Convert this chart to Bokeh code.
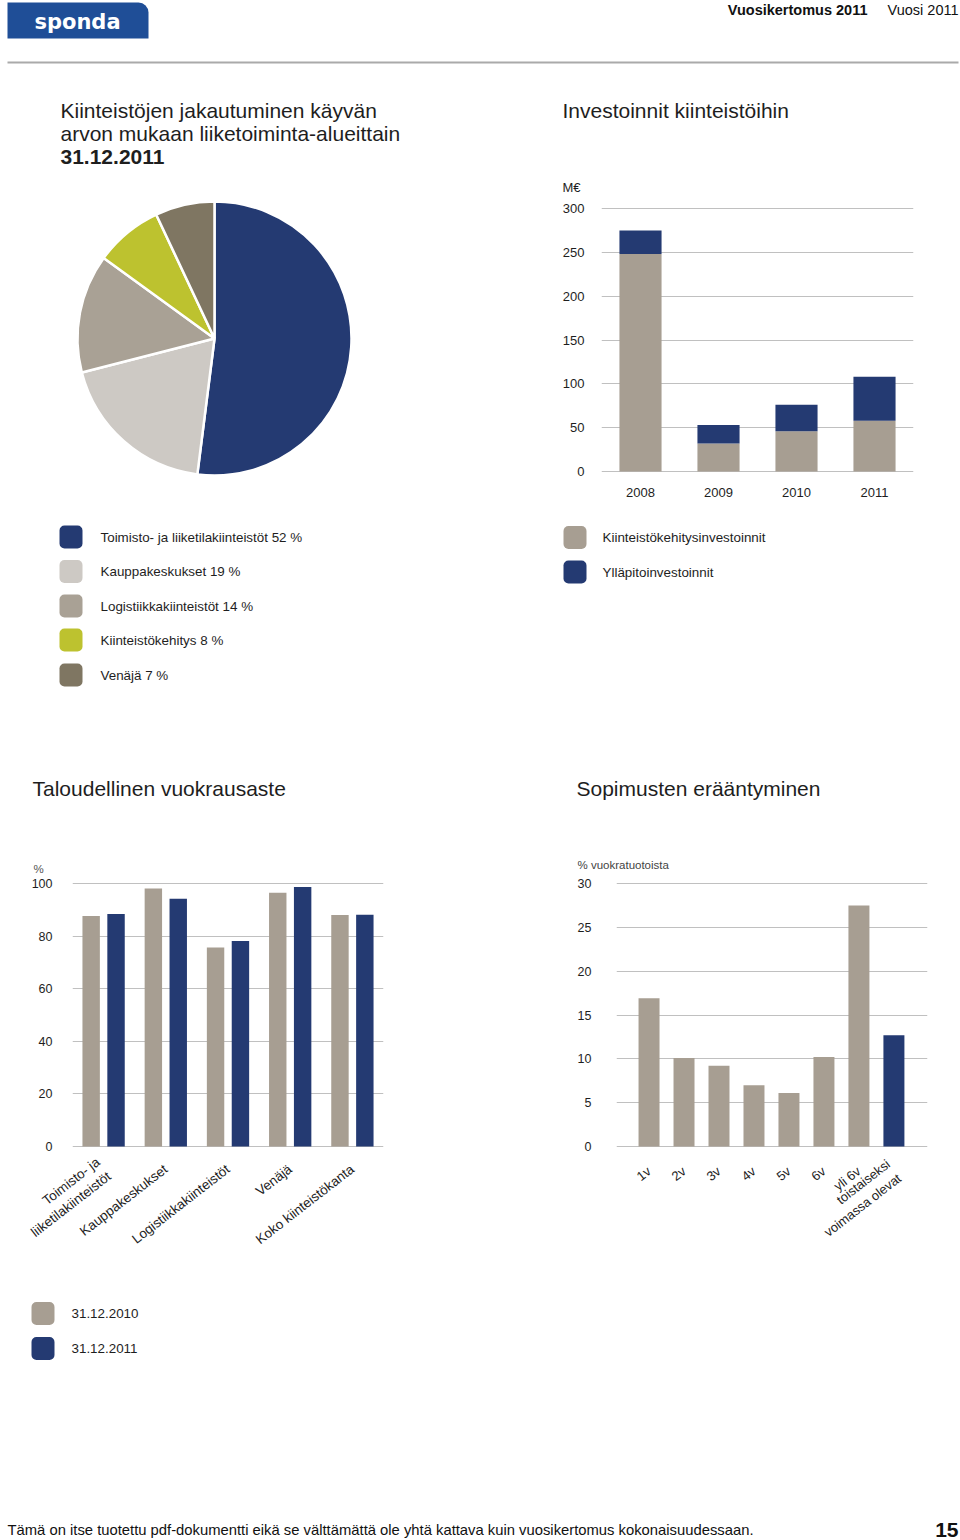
import math
from bokeh.plotting import figure
from bokeh.models import Range1d, FactorRange, FixedTicker, ColumnDataSource
from bokeh.layouts import column, row
from bokeh.transform import dodge
from bokeh.core.properties import value
from bokeh.embed import file_html
from bokeh.resources import INLINE

# ---------------- data ----------------
pie_labels = ["Toimisto- ja liiketilakiinteistöt", "Kauppakeskukset",
              "Logistiikkakiinteistöt", "Kiinteistökehitys", "Venäjä"]
pie_shares = [52, 19, 14, 8, 7]

inv_years = ["2008", "2009", "2010", "2011"]
inv_development = [248, 32, 46, 58]
inv_maintenance = [27, 21, 30, 50]
inv_ticks = [0, 50, 100, 150, 200, 250, 300]
inv_series = ["Kiinteistökehitysinvestoinnit", "Ylläpitoinvestoinnit"]

vac_categories = ["Toimisto- ja\nliiketilakiinteistöt", "Kauppakeskukset",
                  "Logistiikkakiinteistöt", "Venäjä", "Koko kiinteistökanta"]
vac_2010 = [87.6, 98.1, 75.7, 96.5, 88.0]
vac_2011 = [88.4, 94.2, 78.1, 98.7, 88.1]
vac_ticks = [0, 20, 40, 60, 80, 100]
vac_series = ["31.12.2010", "31.12.2011"]

exp_labels = ["1v", "2v", "3v", "4v", "5v", "6v", "yli 6v",
              "toistaiseksi\nvoimassa olevat"]
exp_values = [16.9, 10.1, 9.2, 7.0, 6.1, 10.2, 27.5, 12.7]
exp_ticks = [0, 5, 10, 15, 20, 25, 30]

# ---------------- style ----------------
FONT = "Liberation Sans"
NAVY = "#243a72"
BEIGE = "#a79e92"
PIE_COLORS = [NAVY, "#cdc9c4", "#a9a195", "#bdc22f", "#7f7662"]
GRID = "#c0c0c0"
TXT = "#1e1e1e"
LOGO = "#1f4e97"


def canvas(x0, x1, y0, y1):
    p = figure(width=x1 - x0, height=y1 - y0, x_range=Range1d(x0, x1),
               y_range=Range1d(-y1, -y0), x_axis_type=None, y_axis_type=None,
               output_backend="svg", toolbar_location=None, min_border=0,
               outline_line_color=None)
    return p


def txt(p, x, y, s, size, color=TXT, bold=False, align="left", baseline="middle", font=FONT):
    p.text(x=[x], y=[-y], text=[s], text_font=value(font),
           text_font_size=f"{size}px", text_color=color,
           text_font_style="bold" if bold else "normal",
           text_align=align, text_baseline=baseline)


def swatch(p, x, yc, color):
    p.quad(left=[x], right=[x + 23], top=[-(yc - 11.5)], bottom=[-(yc + 11.5)],
           fill_color=color, line_color=None, border_radius=5)


def style_chart(p, ticks, label_size, standoff_y, standoff_x):
    p.xgrid.visible = False
    p.ygrid.ticker = FixedTicker(ticks=ticks)
    p.ygrid.grid_line_color = GRID
    p.ygrid.grid_line_width = 1
    p.yaxis.ticker = FixedTicker(ticks=ticks)
    for ax in p.axis:
        ax.axis_line_color = None
        ax.major_tick_line_color = None
        ax.minor_tick_line_color = None
        ax.major_tick_in = 0
        ax.major_tick_out = 0
        ax.major_label_text_font = FONT
        ax.major_label_text_font_size = f"{label_size}px"
        ax.major_label_text_color = TXT
    p.yaxis.major_label_standoff = standoff_y
    p.xaxis.major_label_standoff = standoff_x


# ---------------- header ----------------
head = canvas(0, 960, 0, 70)
head.quad(left=[7], right=[148], top=[-2], bottom=[-38], fill_color=LOGO,
          line_color=None, border_radius=(0, 10, 0, 0))
txt(head, 77, 21, "sponda", 21, color="white", bold=True, align="center", font="DejaVu Sans")
txt(head, 867, 9, "Vuosikertomus 2011", 14.5, color="#111", bold=True, align="right")
txt(head, 958, 9, "Vuosi 2011", 14.5, color="#111", align="right")
head.segment(x0=[7], y0=[-62], x1=[958], y1=[-62], line_color="#aaaaaa", line_width=2)

# ---------------- pie section ----------------
pie = canvas(0, 548, 70, 720)
txt(pie, 60, 110, "Kiinteistöjen jakautuminen käyvän", 21)
txt(pie, 60, 133, "arvon mukaan liiketoiminta-alueittain", 21)
txt(pie, 60, 156, "31.12.2011", 21, bold=True)
starts, ends, cum = [], [], 0
total = sum(pie_shares)
for s in pie_shares:
    starts.append(math.pi / 2 - 2 * math.pi * cum / total)
    cum += s
    ends.append(math.pi / 2 - 2 * math.pi * cum / total)
pie_src = ColumnDataSource(dict(start=starts, end=ends, color=PIE_COLORS))
pie.wedge(x=214, y=-338, radius=137, start_angle="start", end_angle="end",
          direction="clock", fill_color="color", line_color="white", line_width=2.5,
          source=pie_src)
leg_y = [536.5, 571, 605.5, 639.5, 674.5]
for lab, sh, col, yy in zip(pie_labels, pie_shares, PIE_COLORS, leg_y):
    swatch(pie, 59, yy, col)
    txt(pie, 100, yy, f"{lab} {sh} %", 13.4)

# ---------------- investments ----------------
inv_title = canvas(548, 960, 70, 195)
txt(inv_title, 562, 110, "Investoinnit kiinteistöihin", 21)
txt(inv_title, 562, 187, "M€", 13)

inv_pad = 300 / 263
inv = figure(width=412, height=325, x_range=FactorRange(factors=inv_years),
             y_range=Range1d(-inv_pad, 300 + inv_pad), output_backend="svg",
             toolbar_location=None, min_border_left=53, min_border_right=47,
             min_border_top=12, min_border_bottom=48, outline_line_color=None)
inv_src = ColumnDataSource(dict(year=inv_years, dev=inv_development, mnt=inv_maintenance))
inv.vbar_stack(["dev", "mnt"], x="year", width=0.54, fill_color=[BEIGE, NAVY],
               line_color=None, source=inv_src)
style_chart(inv, inv_ticks, 13, 17, 15)

inv_leg = canvas(548, 960, 520, 720)
for lab, col, yy in zip(inv_series, [BEIGE, NAVY], [537, 571.5]):
    swatch(inv_leg, 563, yy, col)
    txt(inv_leg, 602, yy, lab, 13.4)

# ---------------- vacancy ----------------
vac_title = canvas(0, 555, 720, 875)
txt(vac_title, 32, 788, "Taloudellinen vuokrausaste", 21)
txt(vac_title, 33, 868, "%", 11.5, color="#555")

vac_pad = 100 / 263
vac = figure(width=555, height=405, x_range=FactorRange(factors=vac_categories),
             y_range=Range1d(-vac_pad, 100 + vac_pad), output_backend="svg",
             toolbar_location=None, min_border_left=72, min_border_right=172,
             min_border_top=7, min_border_bottom=133, outline_line_color=None)
vac_src = ColumnDataSource(dict(cat=vac_categories, a=vac_2010, b=vac_2011))
vac.vbar(x=dodge("cat", -0.2, range=vac.x_range), top="a", width=0.28,
         fill_color=BEIGE, line_color=None, source=vac_src)
vac.vbar(x=dodge("cat", 0.2, range=vac.x_range), top="b", width=0.28,
         fill_color=NAVY, line_color=None, source=vac_src)
style_chart(vac, vac_ticks, 12.5, 20, 20)
vac.xaxis.major_label_text_font_size = "13.5px"
vac.xaxis.major_label_orientation = 0.66

vac_leg = canvas(0, 555, 1280, 1500)
for lab, col, yy in zip(vac_series, [BEIGE, NAVY], [1313, 1348]):
    swatch(vac_leg, 31, yy, col)
    txt(vac_leg, 71, yy, lab, 13.4)

# ---------------- expiry ----------------
exp_title = canvas(555, 960, 720, 875)
txt(exp_title, 576, 788, "Sopimusten erääntyminen", 21)
txt(exp_title, 577, 864, "% vuokratuotoista", 11.5, color="#444")

exp_pad = 30 / 263
exp = figure(width=405, height=405, x_range=Range1d(-0.93, 7.96),
             y_range=Range1d(-exp_pad, 30 + exp_pad), output_backend="svg",
             toolbar_location=None, min_border_left=61, min_border_right=33,
             min_border_top=7, min_border_bottom=133, outline_line_color=None)
exp_x = list(range(len(exp_values)))
exp_colors = [BEIGE] * (len(exp_values) - 1) + [NAVY]
exp_src = ColumnDataSource(dict(x=exp_x, v=exp_values, c=exp_colors))
exp.vbar(x="x", top="v", width=0.6, fill_color="c", line_color=None, source=exp_src)
style_chart(exp, exp_ticks, 12.5, 25, 22)
exp.xaxis.major_label_text_font_size = "13px"
exp.xaxis.ticker = FixedTicker(ticks=exp_x)
exp.xaxis.major_label_overrides = {i: lab for i, lab in zip(exp_x, exp_labels)}
exp.xaxis.major_label_orientation = 0.66

exp_fill = canvas(555, 960, 1280, 1500)

# ---------------- footer ----------------
foot = canvas(0, 960, 1500, 1540)
txt(foot, 7, 1529, "Tämä on itse tuotettu pdf-dokumentti eikä se välttämättä ole yhtä kattava kuin vuosikertomus kokonaisuudessaan.",
    14.8, color="#111")
txt(foot, 958, 1529, "15", 21, color="#111", bold=True, align="right")

layout = column(
    head,
    row(pie, column(inv_title, row(inv), inv_leg)),
    row(column(vac_title, row(vac), vac_leg), column(exp_title, row(exp), exp_fill)),
    foot,
)

open("out.html", "w").write(file_html(layout, INLINE))
